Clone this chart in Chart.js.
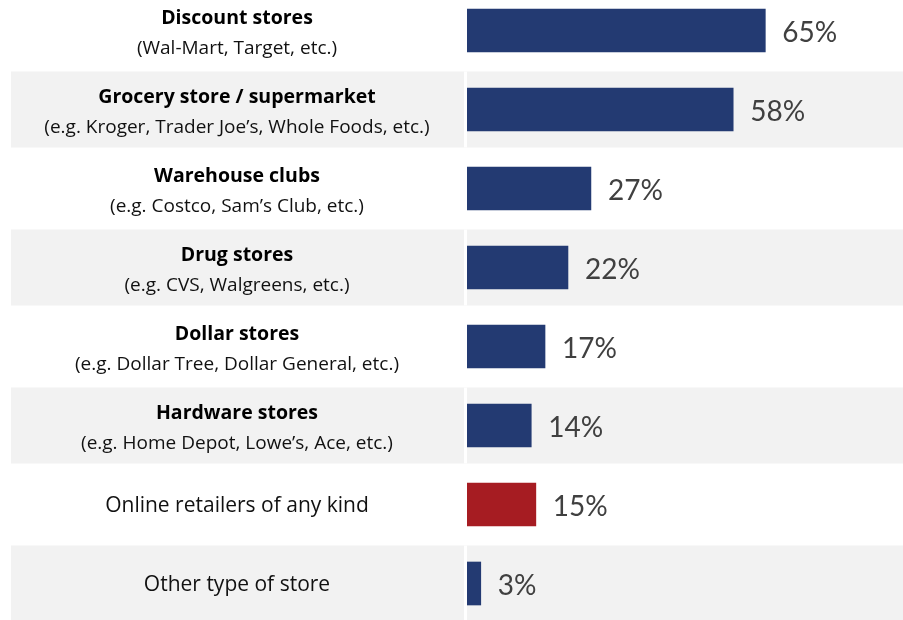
<!DOCTYPE html>
<html>
<head>
<meta charset="utf-8">
<script src="https://cdn.jsdelivr.net/npm/chart.js@4"></script>
<style>
  html, body { margin: 0; padding: 0; background: #fff; overflow: hidden; }
  #wrap { position: absolute; left: 0; top: -9px; width: 903px; height: 632px; }
</style>
</head>
<body>
<div id="wrap"><canvas id="myChart" width="903" height="632"></canvas></div>
<script>
const titles = [
  "Discount stores",
  "Grocery store / supermarket",
  "Warehouse clubs",
  "Drug stores",
  "Dollar stores",
  "Hardware stores",
  "Online retailers of any kind",
  "Other type of store",
];
const subtitles = [
  "(Wal-Mart, Target, etc.)",
  "(e.g. Kroger, Trader Joe\u2019s, Whole Foods, etc.)",
  "(e.g. Costco, Sam\u2019s Club, etc.)",
  "(e.g. CVS, Walgreens, etc.)",
  "(e.g. Dollar Tree, Dollar General, etc.)",
  "(e.g. Home Depot, Lowe\u2019s, Ace, etc.)",
  "",
  "",
];
const shares = [65, 58, 27, 22, 17, 14, 15, 3];

const NavyColor = "#233A72";
const RedColor = "#A61C22";
const StripeColor = "#F2F2F2";
const barColors = shares.map((v, i) => (i === 6 ? RedColor : NavyColor));

const LABEL_FONT = "'Open Sans', sans-serif";
const VALUE_FONT = "Lato, 'Open Sans', sans-serif";

const rowsPlugin = {
  id: "rows",
  beforeDraw(chart) {
    const ctx = chart.ctx;
    const y = chart.scales.y;
    const right = chart.width;
    ctx.save();
    titles.forEach((t, i) => {
      if (i % 2 === 1) {
        const cy = y.getPixelForValue(i);
        ctx.fillStyle = StripeColor;
        ctx.fillRect(11, cy - 38, right - 11, 76);
        ctx.fillStyle = "#ffffff";
        ctx.fillRect(chart.chartArea.left - 3, cy - 38, 3, 76);
      }
    });
    ctx.restore();
  },
  afterDatasetsDraw(chart) {
    const ctx = chart.ctx;
    const y = chart.scales.y;
    const x = chart.scales.x;
    ctx.save();
    ctx.textAlign = "center";
    ctx.textBaseline = "middle";
    titles.forEach((t, i) => {
      const cy = y.getPixelForValue(i);
      if (subtitles[i]) {
        ctx.fillStyle = "#000000";
        ctx.font = "bold 19.5px " + LABEL_FONT;
        ctx.fillText(t, 237, cy - 12);
        ctx.fillStyle = "#111111";
        ctx.font = "19px " + LABEL_FONT;
        ctx.fillText(subtitles[i], 237, cy + 18);
      } else {
        ctx.fillStyle = "#111111";
        ctx.font = "21px " + LABEL_FONT;
        ctx.fillText(t, 237, cy + 2);
      }
    });
    ctx.textAlign = "left";
    ctx.fillStyle = "#404040";
    ctx.font = "28px " + VALUE_FONT;
    shares.forEach((v, i) => {
      ctx.fillText(v + "%", x.getPixelForValue(v) + 17, y.getPixelForValue(i) + 2);
    });
    ctx.restore();
  },
};

const ctx = document.getElementById("myChart").getContext("2d");
const myChart = new Chart(ctx, {
  type: "bar",
  data: {
    labels: titles,
    datasets: [
      {
        data: shares,
        backgroundColor: barColors,
        borderWidth: 0,
        barThickness: 43,
      },
    ],
  },
  options: {
    indexAxis: "y",
    responsive: false,
    animation: false,
    devicePixelRatio: 1,
    layout: { padding: { left: 467, right: 0, top: 0, bottom: 0 } },
    plugins: {
      legend: { display: false },
      tooltip: { enabled: false },
    },
    scales: {
      x: { display: false, min: 0, max: 95 },
      y: { display: false },
    },
  },
  plugins: [rowsPlugin],
});
</script>
</body>
</html>
